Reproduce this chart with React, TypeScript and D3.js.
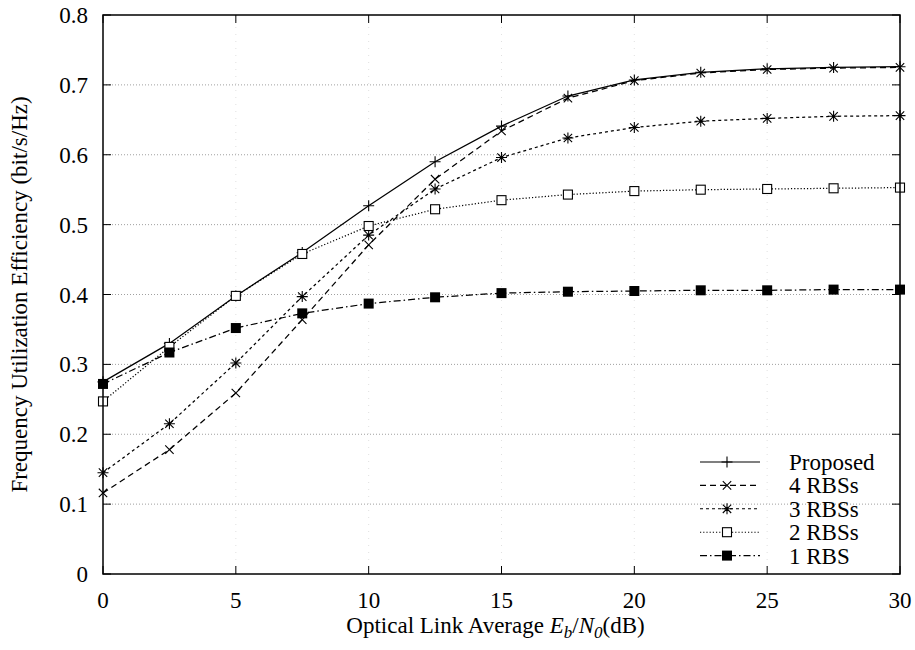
import React from "react";
import * as d3 from "d3";

// Eb/N0 sweep (dB)
const snr = [0, 2.5, 5, 7.5, 10, 12.5, 15, 17.5, 20, 22.5, 25, 27.5, 30];

const proposed = [0.275, 0.33, 0.398, 0.46, 0.527, 0.59, 0.641, 0.684, 0.707, 0.718, 0.723, 0.725, 0.726];
const rbs4 = [0.116, 0.178, 0.259, 0.364, 0.471, 0.565, 0.634, 0.681, 0.706, 0.717, 0.722, 0.724, 0.725];
const rbs3 = [0.145, 0.215, 0.302, 0.397, 0.485, 0.551, 0.596, 0.624, 0.639, 0.648, 0.652, 0.655, 0.656];
const rbs2 = [0.247, 0.325, 0.398, 0.458, 0.498, 0.522, 0.535, 0.543, 0.548, 0.55, 0.551, 0.552, 0.553];
const rbs1 = [0.272, 0.317, 0.352, 0.373, 0.387, 0.396, 0.402, 0.404, 0.405, 0.406, 0.406, 0.407, 0.407];

const seriesNames = ["Proposed", "4 RBSs", "3 RBSs", "2 RBSs", "1 RBS"];

const xTicks = [0, 5, 10, 15, 20, 25, 30];
const yTicks = [0, 0.1, 0.2, 0.3, 0.4, 0.5, 0.6, 0.7, 0.8];

type Marker = "plus" | "cross" | "star" | "square" | "filled";

const styles: { dash: string; marker: Marker }[] = [
  { dash: "", marker: "plus" },
  { dash: "6,4", marker: "cross" },
  { dash: "3,3", marker: "star" },
  { dash: "1.2,2", marker: "square" },
  { dash: "7,3,1.5,3", marker: "filled" },
];

const W = 915;
const H = 650;
const M = { left: 103, right: 15, top: 15, bottom: 76 };
const FONT = "'Liberation Serif', 'Times New Roman', serif";
const FS = 23;

function MarkerGlyph({ type, x, y }: { type: Marker; x: number; y: number }) {
  const s = 5.5;
  const c = 4.2;
  switch (type) {
    case "plus":
      return (
        <path d={`M${x - s},${y}H${x + s}M${x},${y - s}V${y + s}`} stroke="#000" strokeWidth={1.1} fill="none" />
      );
    case "cross":
      return (
        <path
          d={`M${x - c},${y - c}L${x + c},${y + c}M${x - c},${y + c}L${x + c},${y - c}`}
          stroke="#000"
          strokeWidth={1.1}
          fill="none"
        />
      );
    case "star":
      return (
        <path
          d={`M${x - s},${y}H${x + s}M${x},${y - s}V${y + s}M${x - c},${y - c}L${x + c},${y + c}M${x - c},${y + c}L${x + c},${y - c}`}
          stroke="#000"
          strokeWidth={1.1}
          fill="none"
        />
      );
    case "square":
      return <rect x={x - 4.5} y={y - 4.5} width={9} height={9} fill="#fff" stroke="#000" strokeWidth={1.1} />;
    case "filled":
      return <rect x={x - 5} y={y - 5} width={10} height={10} fill="#000" />;
  }
}

export default function App() {
  const x = d3.scaleLinear().domain([0, 30]).range([M.left, W - M.right]);
  const y = d3.scaleLinear().domain([0, 0.8]).range([H - M.bottom, M.top]);
  const data = [proposed, rbs4, rbs3, rbs2, rbs1];
  const line = d3
    .line<number>()
    .x((_, i) => x(snr[i]))
    .y((d) => y(d));

  const x0 = x(0);
  const x1 = x(30);
  const y0 = y(0);
  const y1 = y(0.8);
  const tickLen = 8;

  const legX0 = 700;
  const legX1 = 760;
  const legY = 462;
  const legStep = 23.4;

  return (
    <svg width={W} height={H} style={{ position: "absolute", left: 0, top: 0, background: "#fff" }}>
      <rect width={W} height={H} fill="#fff" />
      {/* horizontal grid */}
      {yTicks.slice(1, -1).map((t) => (
        <line key={"g" + t} x1={x0} x2={x1} y1={y(t)} y2={y(t)} stroke="#888" strokeWidth={0.8} strokeDasharray="1,2" />
      ))}
      {/* vertical grid */}
      {xTicks.slice(1, -1).map((t) => (
        <line key={"gv" + t} x1={x(t)} x2={x(t)} y1={y0} y2={y1} stroke="#ccc" strokeWidth={0.6} strokeDasharray="1,6" />
      ))}
      {/* ticks */}
      {yTicks.map((t) => (
        <g key={"yt" + t}>
          <line x1={x0} x2={x0 + tickLen} y1={y(t)} y2={y(t)} stroke="#000" />
          <line x1={x1} x2={x1 - tickLen} y1={y(t)} y2={y(t)} stroke="#000" />
          <text x={x0 - 15} y={y(t)} dy="0.35em" textAnchor="end" fontFamily={FONT} fontSize={FS}>
            {t === 0 ? "0" : d3.format(".1f")(t)}
          </text>
        </g>
      ))}
      {xTicks.map((t) => (
        <g key={"xt" + t}>
          <line x1={x(t)} x2={x(t)} y1={y0} y2={y0 - tickLen} stroke="#000" />
          <line x1={x(t)} x2={x(t)} y1={y1} y2={y1 + tickLen} stroke="#000" />
          <text x={x(t)} y={y0 + 34} textAnchor="middle" fontFamily={FONT} fontSize={FS}>
            {t}
          </text>
        </g>
      ))}
      {/* series */}
      {data.map((vals, k) => (
        <g key={"s" + k}>
          <path d={line(vals) || ""} fill="none" stroke="#000" strokeWidth={1.25} strokeDasharray={styles[k].dash} />
          {vals.map((v, i) => (
            <MarkerGlyph key={i} type={styles[k].marker} x={x(snr[i])} y={y(v)} />
          ))}
        </g>
      ))}
      {/* frame */}
      <rect x={x0} y={y1} width={x1 - x0} height={y0 - y1} fill="none" stroke="#000" strokeWidth={1.5} />
      {/* legend */}
      {seriesNames.map((name, k) => {
        const ly = legY + k * legStep;
        return (
          <g key={"l" + k}>
            <line x1={legX0} x2={legX1} y1={ly} y2={ly} stroke="#000" strokeWidth={1.1} strokeDasharray={styles[k].dash} />
            <MarkerGlyph type={styles[k].marker} x={(legX0 + legX1) / 2 - 3} y={ly} />
            <text x={789} y={ly} dy="0.35em" fontFamily={FONT} fontSize={FS}>
              {name}
            </text>
          </g>
        );
      })}
      {/* axis titles */}
      <text x={(x0 + x1) / 2 - 6} y={633} textAnchor="middle" fontFamily={FONT} fontSize={FS}>
        Optical Link Average{" "}
        <tspan fontStyle="italic">E</tspan>
        <tspan fontStyle="italic" fontSize={17} dy={5}>b</tspan>
        <tspan dy={-5}>/</tspan>
        <tspan fontStyle="italic">N</tspan>
        <tspan fontStyle="italic" fontSize={17} dy={5}>0</tspan>
        <tspan dy={-5}>(dB)</tspan>
      </text>
      <text
        transform={`translate(27,${(y0 + y1) / 2}) rotate(-90)`}
        textAnchor="middle"
        fontFamily={FONT}
        fontSize={FS}
      >
        Frequency Utilization Efficiency (bit/s/Hz)
      </text>
    </svg>
  );
}
